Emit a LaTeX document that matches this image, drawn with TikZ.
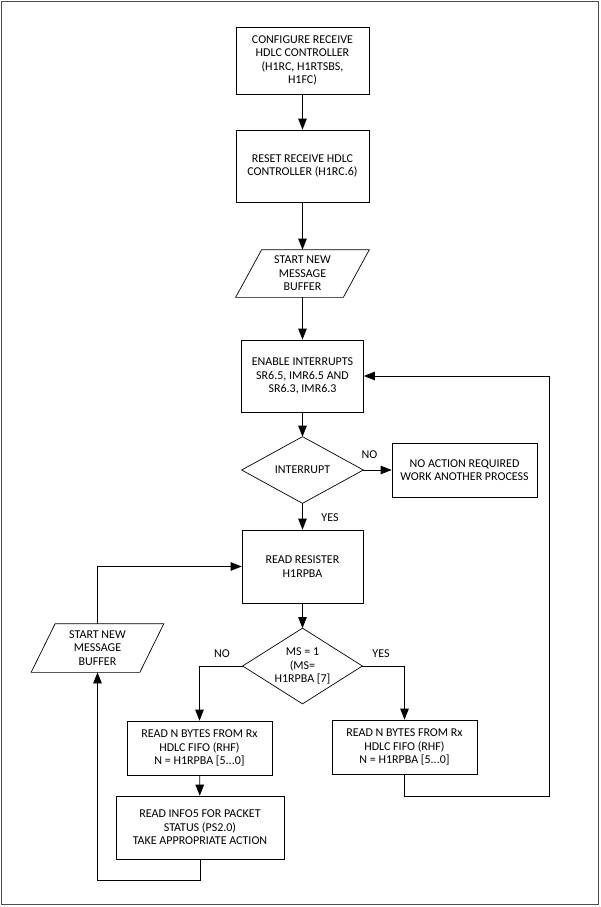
\documentclass[tikz,border=0pt]{standalone}
\usepackage{fontspec}
\setmainfont{Carlito}
\usetikzlibrary{arrows.meta,calc}

\begin{document}
\begin{tikzpicture}[x=1pt,y=-1pt,line width=0.7pt,
	font=\fontsize{12}{13.4}\selectfont,
	box/.style={rectangle,draw=black,align=center,inner sep=0pt},
	shp/.style={rectangle,align=center,inner sep=0pt},
	arr/.style={-{Triangle[length=11pt,width=8.5pt]}}]
	\useasboundingbox (0,0) rectangle (600,907);
	\draw[black!70,line width=1.3pt] (1.5,1.5) rectangle (598.2,904.5);
	% main column
	\node[box,minimum width=133pt,minimum height=67pt] (conf) at (302.5,60.5) {CONFIGURE RECEIVE\\HDLC CONTROLLER\\(H1RC, H1RTSBS,\\H1FC)};
	\node[box,minimum width=133pt,minimum height=72pt] (reset) at (302.5,166) {RESET RECEIVE HDLC\\CONTROLLER (H1RC.6)};
	\node[shp,minimum width=107pt,minimum height=47pt] (buf1) at (302.5,273.5) {START NEW\\MESSAGE\\BUFFER};
	\node[box,minimum width=122pt,minimum height=72pt] (enable) at (302.5,376) {ENABLE INTERRUPTS\\SR6.5, IMR6.5 AND\\SR6.3, IMR6.3};
	\node[shp,minimum width=121pt,minimum height=66pt] (intr) at (302.5,470) {INTERRUPT};
	\node[box,minimum width=145pt,minimum height=54pt] (noact) at (464.5,470) {NO ACTION REQUIRED\\WORK ANOTHER PROCESS};
	\node[box,minimum width=121pt,minimum height=73pt] (readreg) at (302.5,566.5) {READ RESISTER\\H1RPBA};
	\node[shp,minimum width=119pt,minimum height=75pt] (ms) at (302.5,666) {MS = 1\\(MS=\\H1RPBA [7]};
	% branches
	\node[shp,minimum width=108pt,minimum height=48pt] (buf2) at (97.5,648) {START NEW\\MESSAGE\\BUFFER};
	\node[box,minimum width=145pt,minimum height=54pt] (rdl) at (199.5,748) {READ N BYTES FROM Rx\\HDLC FIFO (RHF)\\N = H1RPBA [5...0]};
	\node[box,minimum width=168pt,minimum height=63pt] (info) at (200,827.5) {READ INFO5 FOR PACKET\\STATUS (PS2.0)\\TAKE APPROPRIATE ACTION};
	\node[box,minimum width=145pt,minimum height=54pt] (rdr) at (404.5,747) {READ N BYTES FROM Rx\\HDLC FIFO (RHF)\\N = H1RPBA [5...0]};
	% outlines
	\foreach \n in {intr,ms}
		\draw (\n.north) -- (\n.east) -- (\n.south) -- (\n.west) -- cycle;
	\foreach \n/\s in {buf1/13,buf2/12}
		\draw ($(\n.north west)+(\s,0)$) -- ($(\n.north east)+(\s,0)$) -- ($(\n.south east)+(-\s,0)$) -- ($(\n.south west)+(-\s,0)$) -- cycle;
	% labels
	\node (lno1) at (369.5,455) {NO};
	\node (lyes1) at (330,518) {YES};
	\node (lno2) at (222,654) {NO};
	\node (lyes2) at (381,654) {YES};
	\coordinate (back) at (549,796);
	% connectors
	\draw[arr] (conf) -- (reset);
	\draw[arr] (reset) -- (buf1);
	\draw[arr] (buf1) -- (enable);
	\draw[arr] (enable) -- (intr.north);
	\draw[arr] (intr.east) -- (noact);
	\draw[arr] (intr.south) -- (readreg);
	\draw[arr] (readreg) -- (ms.north);
	\draw[arr] (ms.west) -| (rdl);
	\draw[arr] (ms.east) -| (rdr);
	\draw[arr] (rdl) -- (info);
	\draw[arr] (info.south) -- ++(0,21) -| (buf2.south);
	\draw[arr] (buf2.north) |- (readreg.west);
	\draw[arr] (rdr.south) |- (back) |- (enable.east);
\end{tikzpicture}
\end{document}
